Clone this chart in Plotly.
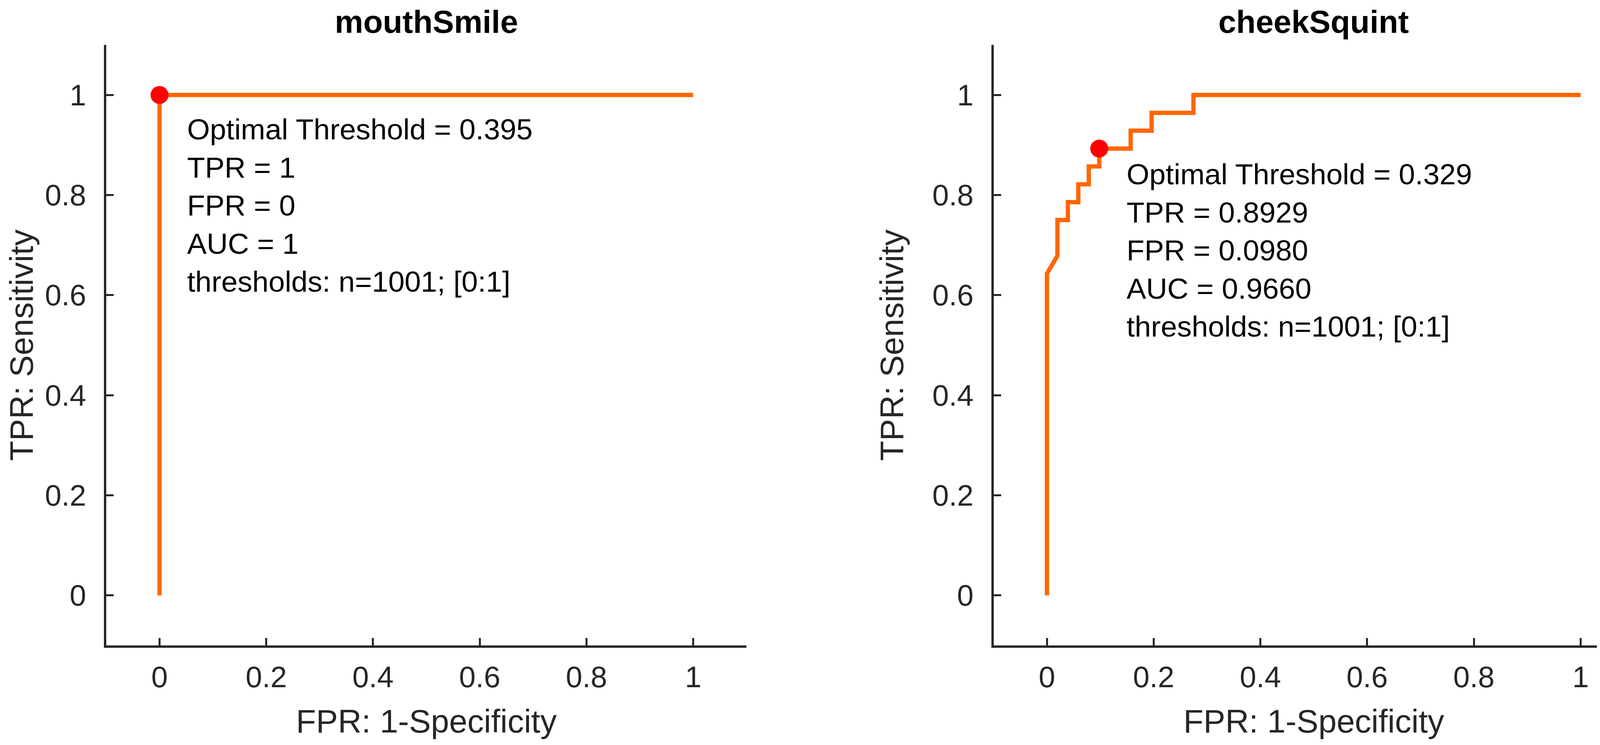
import plotly.graph_objects as go

W, H = 4196, 1908
PAD = 8                      # default body margin of the html page
FW, FH = W - 2 * PAD, H - 2 * PAD

panel_titles = ["mouthSmile", "cheekSquint"]

# ROC points (FPR, TPR)
mouth_fpr = [0, 0, 1]
mouth_tpr = [0, 1, 1]

cheek_fpr = [0, 0, 0.0196, 0.0196, 0.0392, 0.0392, 0.0588, 0.0588, 0.0784, 0.0784,
             0.0980, 0.0980, 0.1569, 0.1569, 0.1961, 0.1961, 0.2745, 0.2745, 1]
cheek_tpr = [0, 0.6429, 0.6786, 0.75, 0.75, 0.7857, 0.7857, 0.8214, 0.8214, 0.8571,
             0.8571, 0.8929, 0.8929, 0.9286, 0.9286, 0.9643, 0.9643, 1, 1]

# optimal operating points
opt_fpr = [0, 0.0980]
opt_tpr = [1, 0.8929]
opt_text = [
    "Optimal Threshold = 0.395<br>TPR = 1<br>FPR = 0<br>AUC = 1<br>thresholds: n=1001; [0:1]",
    "Optimal Threshold = 0.329<br>TPR = 0.8929<br>FPR = 0.0980<br>AUC = 0.9660<br>thresholds: n=1001; [0:1]",
]

tick_vals = [0, 0.2, 0.4, 0.6, 0.8, 1]
tick_text = ["0", "0.2", "0.4", "0.6", "0.8", "1"]

orange = "#FF6600"
axis_col = "#262626"
font_fam = "Liberation Sans, Arial, sans-serif"


def px_x(p):
    return (p - PAD) / FW


def px_y(p):
    return 1 - (p - PAD) / FH


x_domains = [[px_x(268), px_x(1909)], [px_x(2542), px_x(4183)]]
y_domain = [px_y(1653), px_y(115)]
text_shift = [-44, -22]

curves = [(mouth_fpr, mouth_tpr), (cheek_fpr, cheek_tpr)]

fig = go.Figure()
for i, (fx, ty) in enumerate(curves):
    xa = "x" if i == 0 else "x2"
    ya = "y" if i == 0 else "y2"
    fig.add_trace(go.Scatter(x=fx, y=ty, mode="lines", xaxis=xa, yaxis=ya,
                             line=dict(color=orange, width=11), showlegend=False))
    fig.add_trace(go.Scatter(x=[opt_fpr[i]], y=[opt_tpr[i]], mode="markers", xaxis=xa, yaxis=ya,
                             marker=dict(color="#FF0000", size=46, line=dict(width=0)),
                             showlegend=False))
    fig.add_annotation(x=opt_fpr[i] + 0.05, y=opt_tpr[i], xref=xa, yref=ya,
                       text=opt_text[i], showarrow=False, align="left",
                       xanchor="left", yanchor="top", yshift=text_shift[i],
                       font=dict(size=75, color="black", family=font_fam))
    fig.add_annotation(x=sum(x_domains[i]) / 2, y=px_y(103), xref="paper", yref="paper",
                       text="<b>" + panel_titles[i] + "</b>", showarrow=False,
                       xanchor="center", yanchor="bottom",
                       font=dict(size=82, color="black", family=font_fam))

ax_common = dict(
    range=[-0.1, 1.1], tickvals=tick_vals, ticktext=tick_text,
    showline=True, linecolor=axis_col, linewidth=6, mirror=False,
    ticks="inside", ticklen=19, tickwidth=5, tickcolor=axis_col,
    showgrid=False, zeroline=False,
    tickfont=dict(size=76, color=axis_col, family=font_fam),
)

for i in range(2):
    sfx = "" if i == 0 else "2"
    fig.update_layout(**{
        "xaxis" + sfx: dict(ax_common, domain=x_domains[i], anchor="y" + sfx,
                            ticklabelstandoff=10,
                            title=dict(text="FPR: 1-Specificity", standoff=44,
                                       font=dict(size=84, color=axis_col, family=font_fam))),
        "yaxis" + sfx: dict(ax_common, domain=y_domain, anchor="x" + sfx,
                            ticklabelstandoff=30,
                            title=dict(text="TPR: Sensitivity", standoff=48,
                                       font=dict(size=84, color=axis_col, family=font_fam))),
    })

fig.update_layout(
    width=FW, height=FH,
    margin=dict(l=0, r=0, t=0, b=0),
    plot_bgcolor="white", paper_bgcolor="white",
)

fig.write_html("out.html")
